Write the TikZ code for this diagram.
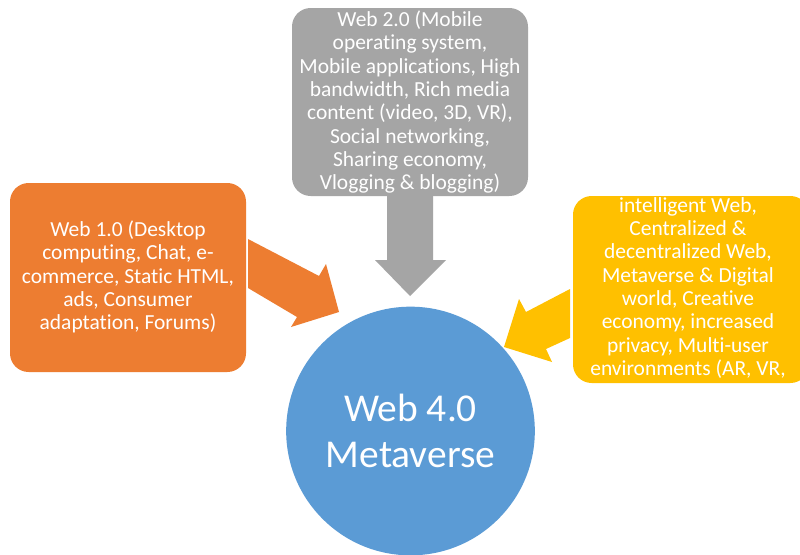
\documentclass[tikz,border=0pt]{standalone}
\usepackage{fontspec}
\setmainfont{Carlito}[RawFeature={-liga}]
\definecolor{cOrange}{HTML}{ED7D31}
\definecolor{cGray}{HTML}{A5A5A5}
\definecolor{cYellow}{HTML}{FFC000}
\definecolor{cBlue}{HTML}{5B9BD5}
\tikzset{
  box/.style={rounded corners=14pt},
  boxtext/.style={text=white, align=center, font=\fontsize{16.1}{17.5}\selectfont, inner sep=0pt},
}
\begin{document}
\begin{tikzpicture}[x=0.75pt,y=-0.75pt]
\useasboundingbox (0,0) rectangle (800,554);
\clip (0,0) rectangle (800,554);
\fill[white] (0,0) rectangle (800,554);
% boxes
\fill[cGray, box] (292,8) rectangle (528,196);
\fill[cOrange, box] (10,183) rectangle (246,372);
\fill[cYellow, box] (573,196) rectangle (809,383);
% block arrows
\fill[cGray] (387,196) -- (433,196) -- (433,260) -- (446,260) -- (410,296) -- (375,260) -- (387,260) -- cycle;
\fill[cOrange] (248,239) -- (319,276) -- (326,264) -- (339,312) -- (291,327) -- (297,317) -- (248,288) -- cycle;
\fill[cYellow] (570,289) -- (526,312) -- (519,299) -- (504,347) -- (552,362) -- (546,349) -- (570,338) -- cycle;
% circle
\node[circle, fill=cBlue, minimum size=186.5pt, inner sep=0pt] (c) at (410.5,431) {};
\node[text=white, align=center, font=\fontsize{29.6}{34}\selectfont] (ct) at (c.center) {Web 4.0\\Metaverse};
% texts
\node[boxtext] (t2) at (410,102) {Web 2.0 (Mobile\\operating system,\\Mobile applications, High\\bandwidth, Rich media\\content (video, 3D, VR),\\Social networking,\\Sharing economy,\\Vlogging \& blogging)};
\node[boxtext] (t1) at (128,277) {Web 1.0 (Desktop\\computing, Chat, e-\\commerce, Static HTML,\\ads, Consumer\\adaptation, Forums)};
\node[boxtext] (t3) at (688,288) {intelligent Web,\\Centralized \&\\decentralized Web,\\Metaverse \& Digital\\world, Creative\\economy, increased\\privacy, Multi-user\\environments (AR, VR,};
\end{tikzpicture}
\end{document}
